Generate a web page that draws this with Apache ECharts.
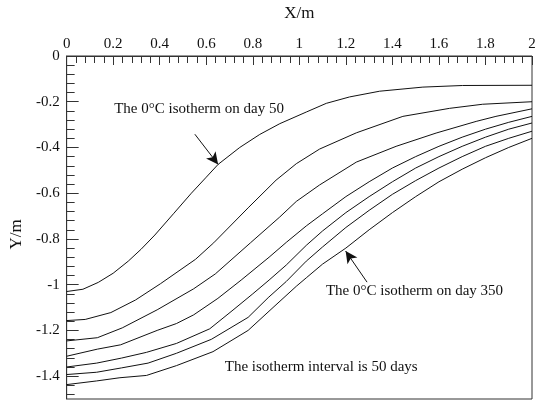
<!DOCTYPE html>
<html>
<head>
<meta charset="utf-8">
<script src="https://cdn.jsdelivr.net/npm/echarts@6/dist/echarts.min.js"></script>
<style>
  html, body { margin: 0; padding: 0; background: #fff; }
  #chart { width: 540px; height: 400px; }
</style>
</head>
<body>
<div id="chart"></div>
<script>
// 0°C isotherm positions [X (m), Y (m)] every 50 days
const day50 = [[0,-1.03],[0.07,-1.02],[0.136,-0.99],[0.2,-0.95],[0.265,-0.897],[0.32,-0.845],[0.379,-0.783],[0.459,-0.69],[0.536,-0.6],[0.6,-0.53],[0.651,-0.474],[0.744,-0.4],[0.83,-0.343],[0.916,-0.296],[1.03,-0.245],[1.116,-0.207],[1.216,-0.179],[1.345,-0.154],[1.531,-0.136],[1.702,-0.129],[2.0,-0.128]];
const day100 = [[0,-1.157],[0.08,-1.152],[0.19,-1.122],[0.296,-1.067],[0.403,-0.996],[0.554,-0.889],[0.632,-0.817],[0.78,-0.664],[0.9,-0.543],[0.987,-0.471],[1.087,-0.407],[1.245,-0.336],[1.445,-0.264],[1.645,-0.229],[1.788,-0.211],[2.0,-0.2]];
const day150 = [[0,-1.246],[0.132,-1.232],[0.239,-1.189],[0.389,-1.11],[0.546,-1.018],[0.639,-0.953],[0.79,-0.817],[0.916,-0.704],[0.987,-0.636],[1.087,-0.564],[1.245,-0.464],[1.416,-0.395],[1.588,-0.337],[1.76,-0.286],[1.845,-0.264],[2.0,-0.231]];
const day200 = [[0,-1.313],[0.132,-1.282],[0.232,-1.263],[0.389,-1.2],[0.472,-1.17],[0.546,-1.132],[0.65,-1.06],[0.75,-0.98],[0.87,-0.88],[0.944,-0.815],[1.03,-0.743],[1.1,-0.69],[1.2,-0.615],[1.3,-0.55],[1.4,-0.49],[1.5,-0.44],[1.6,-0.395],[1.7,-0.355],[1.8,-0.32],[1.9,-0.29],[2.0,-0.264]];
const day250 = [[0,-1.36],[0.129,-1.343],[0.236,-1.321],[0.343,-1.296],[0.472,-1.257],[0.615,-1.193],[0.715,-1.111],[0.8,-1.04],[0.87,-0.98],[0.944,-0.914],[1.03,-0.828],[1.1,-0.765],[1.2,-0.685],[1.3,-0.615],[1.4,-0.55],[1.5,-0.49],[1.6,-0.44],[1.7,-0.395],[1.8,-0.355],[1.9,-0.32],[2.0,-0.293]];
const day300 = [[0,-1.393],[0.129,-1.383],[0.236,-1.364],[0.35,-1.343],[0.472,-1.3],[0.622,-1.239],[0.78,-1.143],[0.866,-1.057],[0.944,-0.986],[1.03,-0.897],[1.1,-0.835],[1.2,-0.75],[1.3,-0.675],[1.4,-0.605],[1.5,-0.545],[1.6,-0.49],[1.7,-0.44],[1.8,-0.395],[1.9,-0.36],[2.0,-0.329]];
const day350 = [[0,-1.437],[0.129,-1.421],[0.229,-1.407],[0.343,-1.397],[0.472,-1.354],[0.629,-1.293],[0.78,-1.2],[0.887,-1.1],[0.987,-1.007],[1.03,-0.97],[1.1,-0.91],[1.2,-0.84],[1.3,-0.76],[1.4,-0.685],[1.5,-0.615],[1.6,-0.55],[1.7,-0.495],[1.8,-0.445],[1.9,-0.4],[2.0,-0.36]];
const isotherms = [day50, day100, day150, day200, day250, day300, day350];
const isothermNames = ['day 50', 'day 100', 'day 150', 'day 200', 'day 250', 'day 300', 'day 350'];

// Axis ticks
const yMajorTicks = [0, -0.2, -0.4, -0.6, -0.8, -1, -1.2, -1.4];
const yMinorTicks = [];
for (let k = 0; k >= -37; k--) yMinorTicks.push(+(k * 0.04).toFixed(2));

// Annotation text and arrows (data coordinates)
const notes = [
  { text: 'The 0\u00B0C isotherm on day 50', at: [0.569, -0.23] },
  { text: 'The 0\u00B0C isotherm on day 350', at: [1.495, -1.03] },
  { text: 'The isotherm interval is 50 days', at: [1.094, -1.36] }
];
const arrows = [
  { from: [0.551, -0.342], to: [0.651, -0.474] },
  { from: [1.291, -0.989], to: [1.199, -0.853] }
];

const FONT = '"Liberation Serif", "Times New Roman", serif';
const INK = '#111';

function fmt(v) {
  return String(+v.toFixed(2));
}

const chart = echarts.init(document.getElementById('chart'), null, { renderer: 'canvas' });

const series = isotherms.map((pts, i) => ({
  name: isothermNames[i],
  type: 'line',
  data: pts,
  showSymbol: false,
  symbol: 'none',
  smooth: false,
  silent: true,
  lineStyle: { color: INK, width: 1 },
  z: 3
}));

series[0].markLine = {
  silent: true,
  animation: false,
  symbolSize: [9, 12],
  label: { show: false },
  lineStyle: { color: INK, width: 1, type: 'solid' },
  data: arrows.map(a => [
    { coord: a.from, symbol: 'none' },
    { coord: a.to, symbol: 'arrow' }
  ])
};

chart.setOption({
  animation: false,
  backgroundColor: '#fff',
  grid: {
    left: 66, right: 8, top: 50, bottom: 1,
    show: true, borderColor: '#333', borderWidth: 1
  },
  xAxis: {
    type: 'value',
    position: 'top',
    min: 0, max: 2, interval: 0.2,
    name: 'X/m',
    nameLocation: 'middle',
    nameGap: 34,
    nameTextStyle: { fontFamily: FONT, fontSize: 17, color: INK },
    axisLine: { show: true, onZero: false, lineStyle: { color: '#333', width: 1 } },
    axisTick: { show: true, inside: true, length: 9, lineStyle: { color: '#333' } },
    minorTick: { show: true, splitNumber: 5, length: 7, lineStyle: { color: '#333' } },
    axisLabel: { fontFamily: FONT, fontSize: 15, color: INK, margin: 4, formatter: fmt },
    splitLine: { show: false },
    minorSplitLine: { show: false }
  },
  yAxis: [
    {
      type: 'value',
      min: -1.5, max: 0,
      name: 'Y/m',
      nameLocation: 'middle',
      nameGap: 41,
      nameRotate: 90,
      nameTextStyle: { fontFamily: FONT, fontSize: 17, color: INK, padding: [0, 0, 0, -14] },
      axisLine: { show: true, onZero: false, lineStyle: { color: '#333', width: 1 } },
      axisTick: { show: true, inside: true, length: 12, customValues: yMajorTicks, lineStyle: { color: '#333' } },
      axisLabel: { fontFamily: FONT, fontSize: 15, color: INK, margin: 7, customValues: yMajorTicks, formatter: fmt },
      splitLine: { show: false }
    },
    {
      type: 'value',
      min: -1.5, max: 0,
      position: 'left',
      axisLine: { show: false },
      axisTick: { show: true, inside: true, length: 8, customValues: yMinorTicks, lineStyle: { color: '#333' } },
      axisLabel: { show: false },
      splitLine: { show: false }
    }
  ],
  series: series
});

// Place the annotation texts at their data positions
chart.setOption({
  graphic: notes.map(n => {
    const p = chart.convertToPixel({ xAxisIndex: 0, yAxisIndex: 0 }, n.at);
    return {
      type: 'text',
      x: p[0], y: p[1],
      silent: true,
      style: {
        text: n.text,
        fill: INK,
        font: '15px ' + FONT,
        align: 'center',
        verticalAlign: 'middle'
      },
      z: 10
    };
  })
});
</script>
</body>
</html>
